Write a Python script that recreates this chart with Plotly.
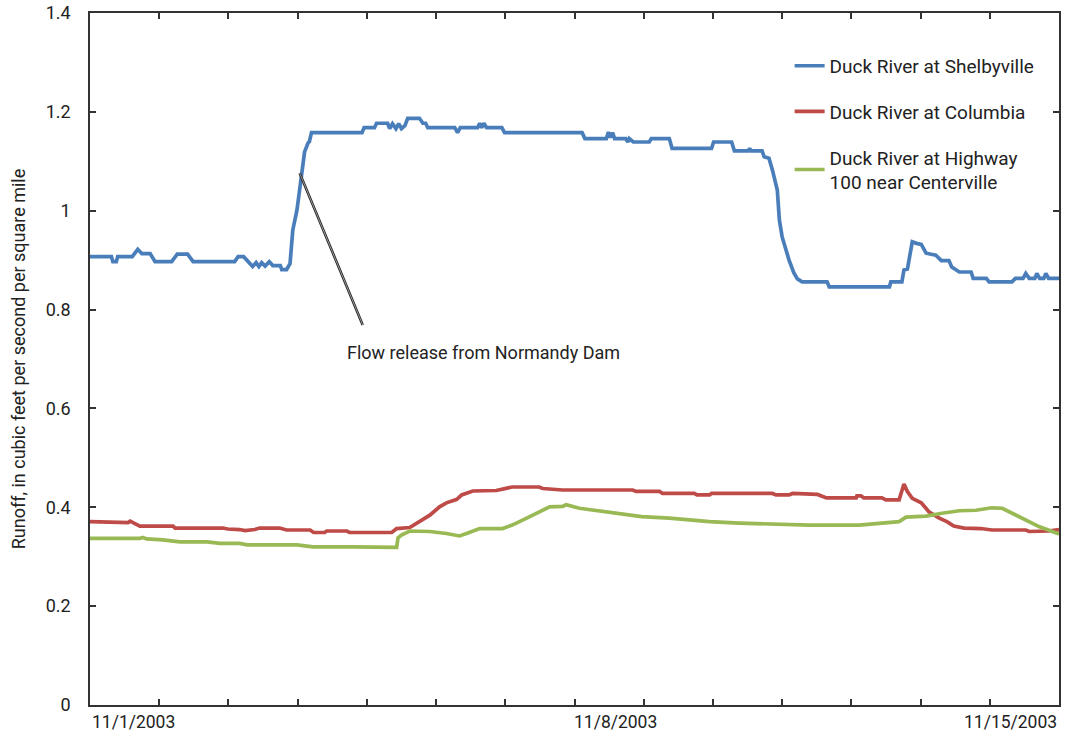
import plotly.graph_objects as go

# Time in days since 11/1/2003 00:00; runoff in cfs per square mile
shelby_day = [0.00, 0.31, 0.33, 0.38, 0.40, 0.61, 0.69, 0.75, 0.87, 0.94, 1.18, 1.26, 1.41, 1.49, 2.09, 2.14, 2.22,
              2.31, 2.35, 2.40, 2.44, 2.48, 2.53, 2.59, 2.64, 2.75, 2.77, 2.84, 2.89, 2.93, 2.99, 3.06, 3.10, 3.15,
              3.17, 3.20, 3.93, 3.96, 4.11, 4.14, 4.30, 4.33, 4.37, 4.42, 4.46, 4.50, 4.55, 4.59, 4.76, 4.81, 4.85,
              4.88, 5.27, 5.31, 5.35, 5.60, 5.63, 5.66, 5.69, 5.73, 5.95, 5.99, 7.11, 7.15, 7.46, 7.49, 7.52, 7.55,
              7.58, 7.74, 7.77, 7.79, 7.85, 8.08, 8.11, 8.37, 8.41, 8.98, 9.01, 9.27, 9.31, 9.51, 9.53, 9.55, 9.71,
              9.74, 9.81, 9.86, 9.93, 9.96, 10.00, 10.10, 10.17, 10.22, 10.29, 10.65, 10.68, 11.55, 11.57, 11.73,
              11.76, 11.81, 11.88, 11.94, 12.01, 12.08, 12.22, 12.30, 12.41, 12.45, 12.56, 12.73, 12.76, 12.95,
              12.99, 13.32, 13.37, 13.48, 13.52, 13.57, 13.65, 13.68, 13.72, 13.78, 13.81, 13.85, 14.00]
shelby_val = [0.907, 0.907, 0.897, 0.897, 0.907, 0.907, 0.922, 0.913, 0.913, 0.897, 0.897, 0.912, 0.912, 0.897,
              0.897, 0.907, 0.907, 0.893, 0.887, 0.895, 0.887, 0.895, 0.888, 0.897, 0.889, 0.889, 0.881, 0.881,
              0.893, 0.961, 1.001, 1.076, 1.119, 1.137, 1.140, 1.158, 1.158, 1.168, 1.168, 1.177, 1.177, 1.166,
              1.176, 1.166, 1.176, 1.166, 1.172, 1.187, 1.187, 1.177, 1.177, 1.168, 1.168, 1.158, 1.168, 1.168,
              1.177, 1.168, 1.177, 1.168, 1.168, 1.158, 1.158, 1.146, 1.146, 1.159, 1.148, 1.158, 1.146, 1.146,
              1.139, 1.146, 1.139, 1.139, 1.146, 1.146, 1.126, 1.126, 1.139, 1.139, 1.121, 1.121, 1.126, 1.121,
              1.121, 1.109, 1.106, 1.082, 1.042, 0.981, 0.947, 0.900, 0.874, 0.862, 0.856, 0.856, 0.846, 0.846,
              0.856, 0.856, 0.880, 0.882, 0.937, 0.934, 0.932, 0.914, 0.910, 0.899, 0.899, 0.886, 0.876, 0.876,
              0.863, 0.863, 0.856, 0.856, 0.863, 0.863, 0.873, 0.863, 0.863, 0.873, 0.863, 0.863, 0.873, 0.863,
              0.863]

columbia_day = [0.00, 0.55, 0.58, 0.62, 0.72, 1.20, 1.23, 1.92, 1.99, 2.16, 2.24, 2.38, 2.45, 2.74, 2.84, 3.18,
                3.23, 3.39, 3.42, 3.71, 3.75, 4.36, 4.43, 4.62, 4.76, 4.91, 5.05, 5.15, 5.30, 5.37, 5.53, 5.87,
                6.10, 6.49, 6.54, 6.78, 6.83, 7.84, 7.89, 8.23, 8.27, 8.73, 8.77, 8.95, 8.98, 9.86, 9.91, 10.10,
                10.15, 10.51, 10.64, 11.07, 11.08, 11.14, 11.18, 11.44, 11.50, 11.69, 11.76, 11.81, 11.88, 12.01,
                12.12, 12.27, 12.38, 12.48, 12.63, 12.87, 13.03, 13.52, 13.57, 13.85, 14.00]
columbia_val = [0.371, 0.369, 0.372, 0.369, 0.362, 0.362, 0.358, 0.358, 0.356, 0.355, 0.353, 0.355, 0.358, 0.358,
                0.354, 0.354, 0.349, 0.349, 0.352, 0.352, 0.349, 0.349, 0.357, 0.359, 0.371, 0.384, 0.401, 0.409,
                0.416, 0.425, 0.433, 0.434, 0.441, 0.441, 0.438, 0.437, 0.435, 0.435, 0.432, 0.432, 0.428, 0.428,
                0.425, 0.425, 0.428, 0.428, 0.425, 0.425, 0.428, 0.426, 0.419, 0.419, 0.423, 0.423, 0.419, 0.419,
                0.415, 0.415, 0.447, 0.432, 0.418, 0.409, 0.391, 0.378, 0.371, 0.362, 0.358, 0.357, 0.354, 0.354,
                0.351, 0.352, 0.355]

centerville_day = [0.00, 0.72, 0.76, 0.82, 1.05, 1.30, 1.69, 1.88, 2.16, 2.27, 2.99, 3.22, 3.80, 4.08, 4.43, 4.45,
                   4.50, 4.62, 4.91, 5.15, 5.34, 5.44, 5.63, 5.96, 6.10, 6.31, 6.49, 6.64, 6.83, 6.88, 7.07, 7.36,
                   7.50, 7.84, 7.97, 8.37, 8.70, 8.95, 9.38, 10.39, 11.11, 11.50, 11.69, 11.79, 12.08, 12.31, 12.56,
                   12.80, 13.03, 13.18, 13.32, 13.52, 13.71, 14.00]
centerville_val = [0.337, 0.337, 0.339, 0.336, 0.334, 0.330, 0.330, 0.327, 0.327, 0.324, 0.324, 0.320, 0.320, 0.319,
                   0.319, 0.338, 0.344, 0.352, 0.351, 0.347, 0.342, 0.347, 0.357, 0.357, 0.364, 0.378, 0.391, 0.401,
                   0.402, 0.405, 0.398, 0.393, 0.389, 0.384, 0.381, 0.378, 0.374, 0.371, 0.368, 0.364, 0.364, 0.368,
                   0.371, 0.380, 0.382, 0.388, 0.393, 0.394, 0.399, 0.398, 0.388, 0.374, 0.361, 0.346]

series_names = ["Duck River at Shelbyville", "Duck River at Columbia",
                "Duck River at Highway<br>100 near Centerville"]
series_colors = ["#4A7EBB", "#BE4B48", "#98B954"]

x_tick_days = [0, 7, 14]
x_tick_labels = ["11/1/2003", "11/8/2003", "11/15/2003"]
y_tick_vals = [0, 0.2, 0.4, 0.6, 0.8, 1.0, 1.2, 1.4]
y_tick_labels = ["0", "0.2", "0.4", "0.6", "0.8", "1", "1.2", "1.4"]

callout_text = "Flow release from Normandy Dam"
callout_from = (3.03, 1.076)
callout_to = (3.94, 0.769)

FONT = "Roboto, sans-serif"
AX = "#333333"
TXT = "#222222"

fig = go.Figure()
for i, (xd, yv) in enumerate([(shelby_day, shelby_val), (columbia_day, columbia_val),
                              (centerville_day, centerville_val)]):
    fig.add_trace(go.Scatter(x=xd, y=yv, mode="lines", name=series_names[i],
                             legendgroup=f"g{i}",
                             line=dict(color=series_colors[i], width=3.7)))

# callout line (double-line look)
fig.add_shape(type="line", x0=callout_from[0], y0=callout_from[1], x1=callout_to[0], y1=callout_to[1],
              line=dict(color="#222222", width=2.6), layer="above")
fig.add_shape(type="line", x0=callout_from[0], y0=callout_from[1], x1=callout_to[0], y1=callout_to[1],
              line=dict(color="#bbbbbb", width=0.8), layer="above")
fig.add_annotation(x=3.69, y=0.714, text=callout_text, showarrow=False, xanchor="left", yanchor="middle",
                   font=dict(family=FONT, size=18, color=TXT))

# date labels under the axis
anchors = ["left", "left", "right"]
offsets = [0.0, -0.03, 0.0]
for d, lab, a, o in zip(x_tick_days, x_tick_labels, anchors, offsets):
    fig.add_annotation(x=d + o, y=0, yref="y", text=lab, showarrow=False, xanchor=a, yanchor="top",
                       yshift=-5, font=dict(family=FONT, size=17.5, color=TXT))

fig.update_layout(
    width=1076, height=738,
    margin=dict(l=90, r=17, t=13, b=33, autoexpand=False),
    paper_bgcolor="white", plot_bgcolor="white",
    font=dict(family=FONT, size=18, color=TXT),
    showlegend=True,
    legend=dict(x=0.722, y=0.951, xanchor="left", yanchor="top", bgcolor="rgba(0,0,0,0)",
                font=dict(family=FONT, size=19, color=TXT), traceorder="grouped",
                tracegroupgap=18, itemwidth=30),
    xaxis=dict(range=[0, 14], tickmode="linear", tick0=0, dtick=1, showticklabels=False,
               ticks="inside", ticklen=6, tickwidth=2, tickcolor=AX, showline=True, linecolor=AX,
               linewidth=1.5, mirror="ticks", showgrid=False, zeroline=False, automargin=False),
    yaxis=dict(range=[0, 1.4], tickvals=y_tick_vals, ticktext=y_tick_labels, ticks="inside",
               ticklen=6, tickwidth=2, tickcolor=AX, showline=True, linecolor=AX, linewidth=1.5,
               mirror="ticks", showgrid=False, zeroline=False, ticklabelstandoff=14, automargin=False,
               tickfont=dict(family=FONT, size=18, color=TXT),
               title=dict(text="Runoff, in cubic feet per second per square mile", standoff=15,
                          font=dict(family=FONT, size=18, color=TXT))),
)

fig.write_html("out.html")
